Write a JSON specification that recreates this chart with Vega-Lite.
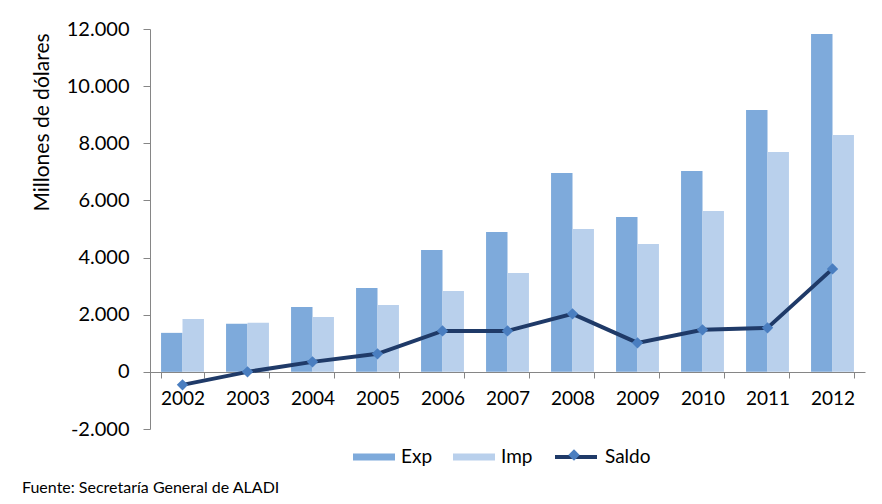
{
  "$schema": "https://vega.github.io/schema/vega-lite/v6.json",
  "width": 715,
  "height": 400,
  "autosize": {"type": "none"},
  "padding": {"left": 150, "top": 29, "right": 17, "bottom": 75},
  "background": "white",
  "config": {
    "view": {"stroke": null},
    "font": "Lato",
    "axis": {"labelColor": "#000000", "titleColor": "#000000", "domainColor": "#868686", "tickColor": "#868686", "grid": false},
    "legend": {"padding": 0}
  },
  "title": {
    "text": "Fuente: Secretaría General de ALADI",
    "orient": "bottom",
    "anchor": "start",
    "frame": "group",
    "fontSize": 16,
    "fontWeight": "normal",
    "color": "#000000",
    "dx": -128,
    "dy": -9,
    "offset": 22
  },
  "datasets": {
    "bars": [
      {"anio": "2002", "serie": "Exp", "valor": 1365},
      {"anio": "2002", "serie": "Imp", "valor": 1854},
      {"anio": "2003", "serie": "Exp", "valor": 1680},
      {"anio": "2003", "serie": "Imp", "valor": 1715},
      {"anio": "2004", "serie": "Exp", "valor": 2274},
      {"anio": "2004", "serie": "Imp", "valor": 1924},
      {"anio": "2005", "serie": "Exp", "valor": 2939},
      {"anio": "2005", "serie": "Imp", "valor": 2344},
      {"anio": "2006", "serie": "Exp", "valor": 4268},
      {"anio": "2006", "serie": "Imp", "valor": 2834},
      {"anio": "2007", "serie": "Exp", "valor": 4898},
      {"anio": "2007", "serie": "Imp", "valor": 3464},
      {"anio": "2008", "serie": "Exp", "valor": 6963},
      {"anio": "2008", "serie": "Imp", "valor": 5003},
      {"anio": "2009", "serie": "Exp", "valor": 5423},
      {"anio": "2009", "serie": "Imp", "valor": 4479},
      {"anio": "2010", "serie": "Exp", "valor": 7033},
      {"anio": "2010", "serie": "Imp", "valor": 5633},
      {"anio": "2011", "serie": "Exp", "valor": 9167},
      {"anio": "2011", "serie": "Imp", "valor": 7698},
      {"anio": "2012", "serie": "Exp", "valor": 11827},
      {"anio": "2012", "serie": "Imp", "valor": 8293}
    ],
    "saldo": [
      {"anio": "2002", "serie": "Saldo", "valor": -455},
      {"anio": "2003", "serie": "Saldo", "valor": 0},
      {"anio": "2004", "serie": "Saldo", "valor": 350},
      {"anio": "2005", "serie": "Saldo", "valor": 630},
      {"anio": "2006", "serie": "Saldo", "valor": 1434},
      {"anio": "2007", "serie": "Saldo", "valor": 1434},
      {"anio": "2008", "serie": "Saldo", "valor": 2030},
      {"anio": "2009", "serie": "Saldo", "valor": 1015},
      {"anio": "2010", "serie": "Saldo", "valor": 1470},
      {"anio": "2011", "serie": "Saldo", "valor": 1540},
      {"anio": "2012", "serie": "Saldo", "valor": 3604}
    ]
  },
  "layer": [
    {
      "data": {"name": "bars"},
      "mark": {"type": "bar"},
      "encoding": {
        "x": {
          "field": "anio",
          "type": "ordinal",
          "scale": {"paddingInner": 0.34, "paddingOuter": 0.17},
          "axis": {
            "title": null,
            "orient": "bottom",
            "offset": -57,
            "labelAngle": 0,
            "labelFontSize": 19,
            "labelPadding": 11,
            "tickSize": 6,
            "tickBand": "extent",
            "domainWidth": 1
          }
        },
        "xOffset": {"field": "serie", "type": "nominal", "sort": ["Exp", "Imp"]},
        "y": {
          "field": "valor",
          "type": "quantitative",
          "scale": {"domain": [-2000, 12000], "nice": false},
          "axis": {
            "values": [-2000, 0, 2000, 4000, 6000, 8000, 10000, 12000],
            "labelExpr": "replace(replace(format(datum.value, ','), ',', '.'), '\u2212', '-')",
            "labelFontSize": 20,
            "labelPadding": 14,
            "tickSize": 7,
            "title": "Millones de dólares",
            "titleFontSize": 21,
            "titleFontWeight": "normal",
            "titleAngle": -90,
            "titleAlign": "center",
            "titleBaseline": "middle",
            "titleX": -108,
            "titleY": 93
          }
        },
        "fill": {
          "field": "serie",
          "type": "nominal",
          "scale": {"domain": ["Exp", "Imp"], "range": ["#7eaadb", "#b9d0ec"]},
          "legend": {
            "title": null,
            "orient": "none",
            "legendX": 203,
            "legendY": 407,
            "direction": "horizontal",
            "symbolType": "M-1,-0.167H1V0.167H-1Z",
            "symbolSize": 1764,
            "symbolStrokeWidth": 0,
            "labelFontSize": 19,
            "labelColor": "#000000",
            "labelOffset": 6,
            "columnPadding": 20
          }
        }
      }
    },
    {
      "data": {"name": "saldo"},
      "mark": {"type": "line", "strokeWidth": 4},
      "encoding": {
        "x": {"field": "anio", "type": "ordinal"},
        "y": {"field": "valor", "type": "quantitative"},
        "stroke": {
          "field": "serie",
          "type": "nominal",
          "scale": {"domain": ["Saldo"], "range": ["#1f3a68"]},
          "legend": {
            "title": null,
            "orient": "none",
            "legendX": 403,
            "legendY": 405,
            "symbolType": "M-1,0H1",
            "symbolSize": 1764,
            "symbolStrokeWidth": 4,
            "labelFontSize": 19,
            "labelColor": "#000000",
            "labelOffset": 6
          }
        }
      }
    },
    {
      "data": {"name": "saldo"},
      "mark": {"type": "point", "filled": true, "color": "#4a7ec0", "size": 130, "opacity": 1},
      "encoding": {
        "x": {"field": "anio", "type": "ordinal"},
        "y": {"field": "valor", "type": "quantitative"},
        "shape": {
          "field": "serie",
          "type": "nominal",
          "scale": {"range": ["diamond"]},
          "legend": {
            "title": null,
            "orient": "none",
            "legendX": 418,
            "legendY": 420,
            "symbolSize": 130,
            "symbolFillColor": "#4a7ec0",
            "symbolStrokeWidth": 0,
            "symbolOpacity": 1,
            "labelOpacity": 0,
            "labelFontSize": 1
          }
        }
      }
    }
  ]
}
